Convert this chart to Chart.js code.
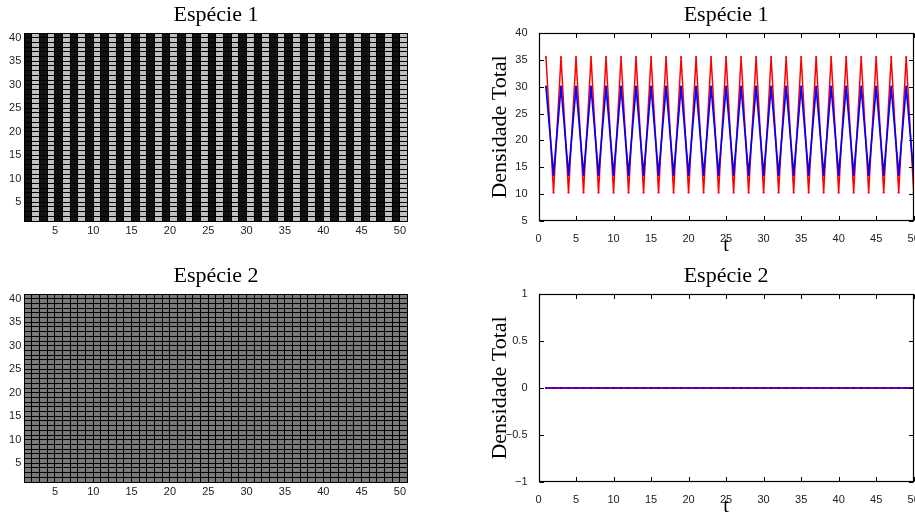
<!DOCTYPE html>
<html lang="pt">
<head>
<meta charset="utf-8">
<title>Espécie 1 e Espécie 2</title>
<script src="https://cdn.jsdelivr.net/npm/chart.js@4.4.1/dist/chart.umd.min.js"></script>
<style>
  html, body { margin: 0; padding: 0; background: #fff; overflow: hidden; }
  body { position: relative; width: 915px; height: 515px; }
  canvas { position: absolute; }
</style>
</head>
<body>
<canvas id="mapa1" width="460" height="254" style="left:0px;top:0px"></canvas>
<canvas id="densidade1" width="480" height="254" style="left:460px;top:0px"></canvas>
<canvas id="mapa2" width="460" height="254" style="left:0px;top:261px"></canvas>
<canvas id="densidade2" width="480" height="254" style="left:460px;top:261px"></canvas>
<script>
"use strict";

// Malha espacial: 50 colunas x 40 linhas
var colunas = [1, 2, 3, 4, 5, 6, 7, 8, 9, 10, 11, 12, 13, 14, 15, 16, 17, 18, 19, 20,
    21, 22, 23, 24, 25, 26, 27, 28, 29, 30, 31, 32, 33, 34, 35, 36, 37, 38, 39, 40,
    41, 42, 43, 44, 45, 46, 47, 48, 49, 50];
var linhas = [1, 2, 3, 4, 5, 6, 7, 8, 9, 10, 11, 12, 13, 14, 15, 16, 17, 18, 19, 20,
    21, 22, 23, 24, 25, 26, 27, 28, 29, 30, 31, 32, 33, 34, 35, 36, 37, 38, 39, 40];

// nivel de cinza de cada coluna (igual em todas as linhas)
var cinzaEspecie1 = [0.07, 0.75, 0.07, 0.75, 0.07, 0.75, 0.07, 0.75, 0.07, 0.75,
    0.07, 0.75, 0.07, 0.75, 0.07, 0.75, 0.07, 0.75, 0.07, 0.75,
    0.07, 0.75, 0.07, 0.75, 0.07, 0.75, 0.07, 0.75, 0.07, 0.75,
    0.07, 0.75, 0.07, 0.75, 0.07, 0.75, 0.07, 0.75, 0.07, 0.75,
    0.07, 0.75, 0.07, 0.75, 0.07, 0.75, 0.07, 0.75, 0.07, 0.75];
var cinzaEspecie2 = [0.48, 0.48, 0.48, 0.48, 0.48, 0.48, 0.48, 0.48, 0.48, 0.48,
    0.48, 0.48, 0.48, 0.48, 0.48, 0.48, 0.48, 0.48, 0.48, 0.48,
    0.48, 0.48, 0.48, 0.48, 0.48, 0.48, 0.48, 0.48, 0.48, 0.48,
    0.48, 0.48, 0.48, 0.48, 0.48, 0.48, 0.48, 0.48, 0.48, 0.48,
    0.48, 0.48, 0.48, 0.48, 0.48, 0.48, 0.48, 0.48, 0.48, 0.48];

// Densidade total ao longo do tempo
var tempo = [1, 2, 3, 4, 5, 6, 7, 8, 9, 10, 11, 12, 13, 14, 15, 16, 17, 18, 19, 20,
    21, 22, 23, 24, 25, 26, 27, 28, 29, 30, 31, 32, 33, 34, 35, 36, 37, 38, 39, 40,
    41, 42, 43, 44, 45, 46, 47, 48, 49, 50];
var esp1Vermelho = [35.5, 10.3, 35.5, 10.3, 35.5, 10.3, 35.5, 10.3, 35.5, 10.3,
    35.5, 10.3, 35.5, 10.3, 35.5, 10.3, 35.5, 10.3, 35.5, 10.3,
    35.5, 10.3, 35.5, 10.3, 35.5, 10.3, 35.5, 10.3, 35.5, 10.3,
    35.5, 10.3, 35.5, 10.3, 35.5, 10.3, 35.5, 10.3, 35.5, 10.3,
    35.5, 10.3, 35.5, 10.3, 35.5, 10.3, 35.5, 10.3, 35.5, 10.3];
var esp1Azul = [30, 13.6, 30, 13.6, 30, 13.6, 30, 13.6, 30, 13.6,
    30, 13.6, 30, 13.6, 30, 13.6, 30, 13.6, 30, 13.6,
    30, 13.6, 30, 13.6, 30, 13.6, 30, 13.6, 30, 13.6,
    30, 13.6, 30, 13.6, 30, 13.6, 30, 13.6, 30, 13.6,
    30, 13.6, 30, 13.6, 30, 13.6, 30, 13.6, 30, 13.6];
var esp2Vermelho = [0, 0, 0, 0, 0, 0, 0, 0, 0, 0, 0, 0, 0, 0, 0, 0, 0, 0, 0, 0, 0, 0, 0, 0, 0,
    0, 0, 0, 0, 0, 0, 0, 0, 0, 0, 0, 0, 0, 0, 0, 0, 0, 0, 0, 0, 0, 0, 0, 0, 0];
var esp2Azul = [0, 0, 0, 0, 0, 0, 0, 0, 0, 0, 0, 0, 0, 0, 0, 0, 0, 0, 0, 0, 0, 0, 0, 0, 0,
    0, 0, 0, 0, 0, 0, 0, 0, 0, 0, 0, 0, 0, 0, 0, 0, 0, 0, 0, 0, 0, 0, 0, 0, 0];

// rotulos dos eixos
var ticksMapaX = [5, 10, 15, 20, 25, 30, 35, 40, 45, 50];
var ticksMapaY = [5, 10, 15, 20, 25, 30, 35, 40];
var ticksTempo = [0, 5, 10, 15, 20, 25, 30, 35, 40, 45, 50];
var ticksDens1 = [5, 10, 15, 20, 25, 30, 35, 40];
var ticksDens2 = [-1, -0.5, 0, 0.5, 1];

var fonteTick = { family: "'Liberation Sans', Arial, sans-serif", size: 11 };
var fonteSerif = "'Liberation Serif', 'Times New Roman', serif";

function tituloPainel(texto) {
    return {
        display: true, text: texto, fullSize: false, color: '#000',
        font: { family: fonteSerif, size: 22, weight: 'normal', lineHeight: 1.2 },
        padding: { top: 1.8, bottom: 4.8 }
    };
}

// Mapas (pcolor) - uma serie de barras flutuantes por linha
function seriesMapa(cinza) {
    var cores = cinza.map(function (v) {
        var g = Math.round(v * 255);
        return 'rgb(' + g + ',' + g + ',' + g + ')';
    });
    return linhas.map(function (r) {
        return {
            data: colunas.map(function (c) { return { x: c + 0.5, y: [r, r + 1] }; }),
            backgroundColor: cores,
            borderWidth: 0,
            grouped: false,
            categoryPercentage: 1,
            barPercentage: 1
        };
    });
}

function opcoesMapa(titulo) {
    var grade = { offset: false, color: '#000', lineWidth: 1, drawTicks: false, z: 1 };
    return {
        responsive: false,
        animation: false,
        events: [],
        layout: { padding: { left: 0, right: 52.4, top: 0, bottom: 0 } },
        plugins: {
            legend: { display: false },
            tooltip: { enabled: false },
            title: tituloPainel(titulo)
        },
        scales: {
            x: {
                type: 'linear', min: 1, max: 51, offset: false,
                grid: grade,
                border: { color: '#000', width: 1, z: 1 },
                ticks: {
                    stepSize: 1, autoSkip: false, maxRotation: 0, padding: 3,
                    color: '#222', font: fonteTick,
                    callback: function (v) { return ticksMapaX.indexOf(v) >= 0 ? String(v) : ''; }
                },
                afterFit: function (s) { s.height = 33; }
            },
            y: {
                type: 'linear', min: 1, max: 41,
                grid: grade,
                border: { color: '#000', width: 1, z: 1 },
                ticks: {
                    stepSize: 1, autoSkip: false, padding: 3,
                    color: '#222', font: fonteTick,
                    callback: function (v) { return ticksMapaY.indexOf(v) >= 0 ? String(v) : ''; }
                },
                afterFit: function (s) { s.width = 24.3; }
            }
        }
    };
}

// caixa e marcas internas, estilo MATLAB
var caixaMatlab = {
    id: 'caixaMatlab',
    afterDraw: function (chart) {
        var ctx = chart.ctx, a = chart.chartArea;
        var sx = chart.scales.x, sy = chart.scales.y;
        var L = Math.round(a.left) + 0.5, R = Math.round(a.right) - 0.5;
        var T = Math.round(a.top) + 0.5, B = Math.round(a.bottom) - 0.5;
        ctx.save();
        ctx.strokeStyle = '#000';
        ctx.lineWidth = 1;
        ctx.beginPath();
        sx.ticks.forEach(function (t) {
            var px = Math.round(sx.getPixelForValue(t.value)) + 0.5;
            ctx.moveTo(px, B); ctx.lineTo(px, B - 4.5);
            ctx.moveTo(px, T); ctx.lineTo(px, T + 4.5);
        });
        sy.ticks.forEach(function (t) {
            var py = Math.round(sy.getPixelForValue(t.value)) + 0.5;
            ctx.moveTo(L, py); ctx.lineTo(L + 4.5, py);
            ctx.moveTo(R, py); ctx.lineTo(R - 4.5, py);
        });
        ctx.stroke();
        ctx.lineWidth = 1.2;
        ctx.strokeRect(L, T, R - L, B - T);
        ctx.restore();
    }
};

function serieLinha(valores, cor, ordem, espessura) {
    return {
        data: tempo.map(function (t, i) { return { x: t, y: valores[i] }; }),
        borderColor: cor,
        backgroundColor: cor,
        borderWidth: espessura,
        pointRadius: 1.1,
        pointBorderWidth: 0,
        order: ordem,
        tension: 0
    };
}

function opcoesDensidade(titulo, yMin, yMax, ticksY) {
    return {
        responsive: false,
        animation: false,
        events: [],
        layout: { padding: { left: 0, right: 26.3, top: 0, bottom: 0 } },
        plugins: {
            legend: { display: false },
            tooltip: { enabled: false },
            title: tituloPainel(titulo)
        },
        scales: {
            x: {
                type: 'linear', min: 0, max: 50,
                grid: { display: false },
                border: { display: false },
                ticks: { padding: 3, maxRotation: 0, autoSkip: false, color: '#222', font: fonteTick },
                afterBuildTicks: function (s) { s.ticks = ticksTempo.map(function (v) { return { value: v }; }); },
                title: {
                    display: true, text: 't', color: '#000',
                    font: { family: fonteSerif, size: 20, lineHeight: 0.8 },
                    padding: { top: 0, bottom: 0 }
                },
                afterFit: function (s) { s.height = 33; }
            },
            y: {
                type: 'linear', min: yMin, max: yMax,
                grid: { display: false },
                border: { display: false },
                ticks: {
                    padding: 3, color: '#222', font: fonteTick,
                    callback: function (v) { return String(v).replace('-', '\u2212'); }
                },
                afterBuildTicks: function (s) { s.ticks = ticksY.map(function (v) { return { value: v }; }); },
                title: {
                    display: true, text: 'Densidade Total', color: '#000',
                    font: { family: fonteSerif, size: 22, lineHeight: 1.2 },
                    padding: { top: 27.5, bottom: 0 }
                },
                afterFit: function (s) { s.width = 78.5; }
            }
        }
    };
}

new Chart(document.getElementById('mapa1'), {
    type: 'bar',
    data: { datasets: seriesMapa(cinzaEspecie1) },
    options: opcoesMapa('Espécie 1')
});

new Chart(document.getElementById('mapa2'), {
    type: 'bar',
    data: { datasets: seriesMapa(cinzaEspecie2) },
    options: opcoesMapa('Espécie 2')
});

new Chart(document.getElementById('densidade1'), {
    type: 'line',
    data: {
        datasets: [
            serieLinha(esp1Vermelho, '#ff0000', 1, 1.5),
            serieLinha(esp1Azul, '#0000ff', 0, 1.7)
        ]
    },
    options: opcoesDensidade('Espécie 1', 5, 40, ticksDens1),
    plugins: [caixaMatlab]
});

new Chart(document.getElementById('densidade2'), {
    type: 'line',
    data: {
        datasets: [
            serieLinha(esp2Vermelho, '#ff0000', 1, 2),
            serieLinha(esp2Azul, '#0000ff', 0, 1.2)
        ]
    },
    options: opcoesDensidade('Espécie 2', -1, 1, ticksDens2),
    plugins: [caixaMatlab]
});
</script>
</body>
</html>
